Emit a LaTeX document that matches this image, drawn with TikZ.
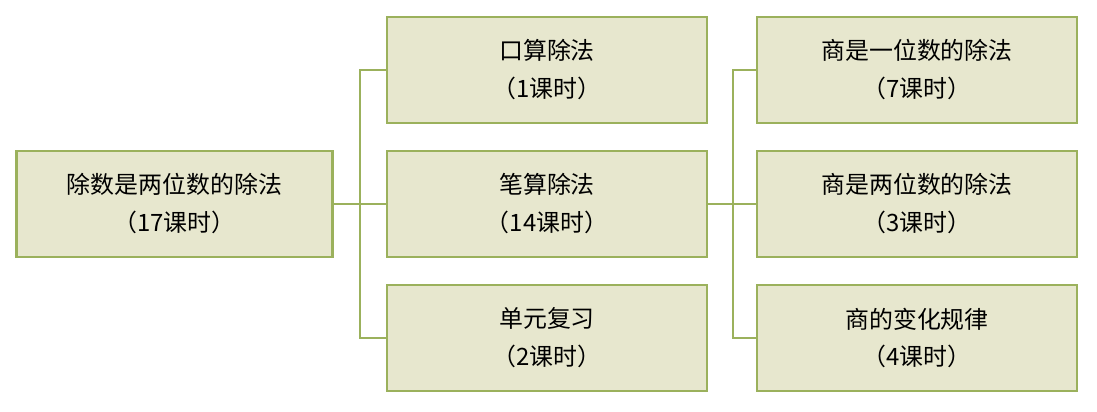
\documentclass[tikz,border=0pt]{standalone}
\usepackage{fontspec}
\setmainfont{Liberation Serif}
\newfontfamily\cjk{Noto Sans CJK SC}
\usetikzlibrary{positioning}
\definecolor{boxfill}{RGB}{231,231,206}
\definecolor{boxline}{RGB}{155,177,92}

\begin{document}
\begin{tikzpicture}[x=0.025cm,y=-0.025cm,
box/.style={draw=boxline,fill=boxfill,line width=1.8pt,minimum width=8cm,minimum height=2.65cm,align=center,font=\fontsize{17}{27}\selectfont\cjk},
link/.style={draw=boxline,line width=1.8pt}]
\useasboundingbox (0,0) rectangle (1097,412);

\node[box,minimum width=7.9cm] (Root) at (174.5,204) {除数是两位数的除法\\（17课时）};
\node[box] (Oral) at (547,70) {口算除法\\（1课时）};
\node[box] (Written) at (547,204) {笔算除法\\（14课时）};
\node[box] (Review) at (547,338) {单元复习\\（2课时）};
\node[box] (One) at (917,70) {商是一位数的除法\\（7课时）};
\node[box] (Two) at (917,204) {商是两位数的除法\\（3课时）};
\node[box] (Rule) at (917,338) {商的变化规律\\（4课时）};

% connectors
\coordinate (s1) at (360,204);
\coordinate (s2) at (733,204);
\draw[link] (Root.east) -- (s1);
\foreach \n in {Oral,Written,Review} \draw[link] (s1) |- (\n.west);
\draw[link] (Written.east) -- (s2);
\foreach \n in {One,Two,Rule} \draw[link] (s2) |- (\n.west);
\end{tikzpicture}
\end{document}
